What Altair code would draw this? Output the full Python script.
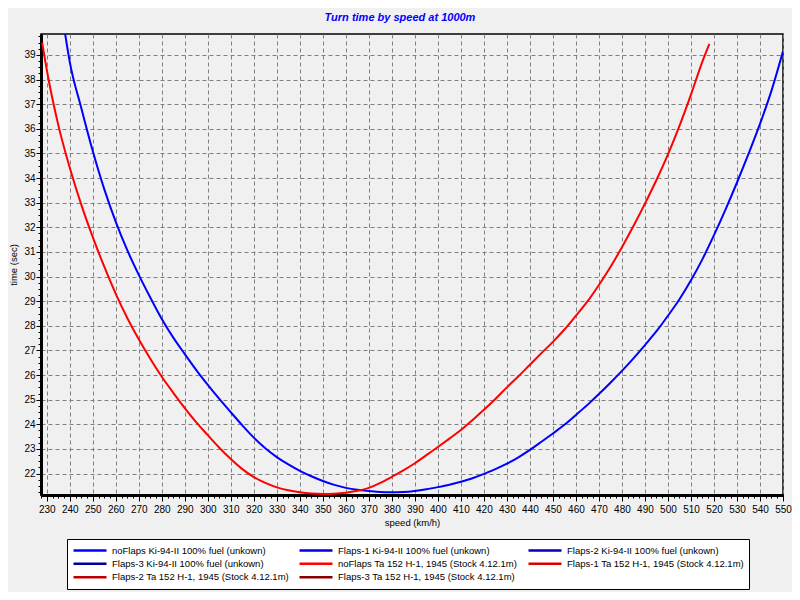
import altair as alt
import pandas as pd

# ---- data ----
series_names = [
    "noFlaps Ki-94-II 100% fuel (unkown)",
    "Flaps-1 Ki-94-II 100% fuel (unkown)",
    "Flaps-2 Ki-94-II 100% fuel (unkown)",
    "Flaps-3 Ki-94-II 100% fuel (unkown)",
    "noFlaps Ta 152 H-1, 1945 (Stock 4.12.1m)",
    "Flaps-1 Ta 152 H-1, 1945 (Stock 4.12.1m)",
    "Flaps-2 Ta 152 H-1, 1945 (Stock 4.12.1m)",
    "Flaps-3 Ta 152 H-1, 1945 (Stock 4.12.1m)",
]
series_colors = ["#0000FF", "#0000DD", "#0000BB", "#000099",
                 "#FF0000", "#DD0000", "#BB0000", "#880000"]

ki_speed = [238, 240, 245, 250, 255, 260, 265, 270, 275, 280, 285, 290, 295, 300,
            305, 310, 315, 320, 325, 330, 335, 340, 345, 350, 355, 360, 365, 370,
            375, 380, 385, 390, 395, 400, 405, 410, 415, 420, 425, 430, 435, 440,
            445, 450, 455, 460, 465, 470, 475, 480, 485, 490, 495, 500, 505, 510,
            515, 520, 525, 530, 535, 540, 545, 550]
ki_time = [39.85, 38.72, 36.85, 35.1, 33.55, 32.22, 31.07, 30.07, 29.15, 28.28, 27.52,
           26.85, 26.2, 25.6, 25.03, 24.49, 23.96, 23.46, 23.03, 22.67, 22.37, 22.11,
           21.89, 21.7, 21.54, 21.42, 21.34, 21.29, 21.25, 21.24, 21.25, 21.29, 21.36,
           21.45, 21.55, 21.67, 21.81, 21.99, 22.18, 22.4, 22.66, 22.96, 23.29, 23.63,
           23.98, 24.38, 24.79, 25.23, 25.69, 26.17, 26.68, 27.22, 27.78, 28.41, 29.08,
           29.85, 30.71, 31.68, 32.72, 33.82, 34.98, 36.2, 37.55, 39.15]

ta_speed = [228, 230, 235, 240, 245, 250, 255, 260, 265, 270, 275, 280, 285, 290,
            295, 300, 305, 310, 315, 320, 325, 330, 335, 340, 345, 350, 355, 360,
            365, 370, 375, 380, 385, 390, 395, 400, 405, 410, 415, 420, 425, 430,
            435, 440, 445, 450, 455, 460, 465, 470, 475, 480, 485, 490, 495, 500,
            505, 510, 515, 518]
ta_time = [39.5, 38.4, 36.16, 34.42, 32.92, 31.6, 30.4, 29.3, 28.32, 27.45, 26.66,
           25.93, 25.28, 24.66, 24.08, 23.56, 23.05, 22.59, 22.18, 21.86, 21.62, 21.44,
           21.32, 21.24, 21.19, 21.17, 21.18, 21.22, 21.3, 21.42, 21.62, 21.87, 22.13,
           22.42, 22.75, 23.08, 23.42, 23.77, 24.17, 24.59, 25.03, 25.5, 25.95, 26.42,
           26.89, 27.35, 27.85, 28.41, 28.99, 29.66, 30.39, 31.19, 32.05, 32.96, 33.92,
           34.96, 36.12, 37.39, 38.74, 39.45]

x_major_ticks = [230 + 10 * i for i in range(33)]
x_minor_ticks = [227.5 + 2.5 * i for i in range(130)]
y_major_ticks = [22 + i for i in range(18)]
y_minor_ticks = [21.25 + 0.25 * i for i in range(75)]

df = pd.concat([
    pd.DataFrame({"speed": ki_speed, "time": ki_time, "series": series_names[0]}),
    pd.DataFrame({"speed": ta_speed, "time": ta_time, "series": series_names[4]}),
], ignore_index=True)

FONT = "Liberation Sans"
x_scale = alt.Scale(domain=[227.5, 550], nice=False, zero=False)
y_scale = alt.Scale(domain=[21.13, 39.85], nice=False, zero=False)

base = alt.Chart(df)

lines = base.mark_line(strokeWidth=2, clip=True, interpolate="monotone").encode(
    x=alt.X("speed:Q", scale=x_scale, axis=alt.Axis(
        title="speed (km/h)", values=x_major_ticks, format="d", orient="bottom",
        labelOverlap=False, labelFlush=False, tickSize=6, grid=True,
        labelPadding=3, titlePadding=3)),
    y=alt.Y("time:Q", scale=y_scale, axis=alt.Axis(
        title="time (sec)", values=y_major_ticks, format="d", orient="left",
        labelOverlap=False, labelFlush=False, tickSize=5, grid=True,
        labelPadding=1, titlePadding=5)),
    color=alt.Color(
        "series:N",
        scale=alt.Scale(domain=series_names, range=series_colors),
        sort=series_names,
        legend=alt.Legend(
            title=None, orient="none", legendX=26, legendY=505, direction="horizontal",
            columns=3, columnPadding=9, rowPadding=0.5,
            symbolType="stroke", symbolSize=1089, symbolStrokeWidth=2.5,
            clipHeight=12.5, labelOffset=4, labelLimit=400,
            labelFont=FONT, labelFontSize=9.5, labelColor="black",
            fillColor="white", strokeColor="black", padding=5,
        ),
    ),
)

minor = base.mark_point(opacity=0).encode(
    x=alt.X("speed:Q", scale=x_scale, axis=alt.Axis(
        title=None, values=x_minor_ticks, labels=False, grid=False, domain=False,
        orient="bottom", tickSize=3)),
    y=alt.Y("time:Q", scale=y_scale, axis=alt.Axis(
        title=None, values=y_minor_ticks, labels=False, grid=False, domain=False,
        orient="left", tickSize=3)),
)

chart = alt.layer(minor, lines).resolve_axis(
    x="independent", y="independent"
).properties(
    width=742, height=461,
    title=alt.TitleParams(
        "Turn time by speed at 1000m", color="#0000FF", font=FONT, fontSize=11,
        fontStyle="italic", fontWeight="bold", anchor="middle", frame="group",
        dx=-12, offset=8,
    ),
    autosize=alt.AutoSizeParams(type="none"),
    padding={"left": 33, "top": 26, "right": 9, "bottom": 97},
).configure(
    background="#F0F0F0",
).configure_view(
    stroke="black", strokeWidth=1.5, fill="#F0F0F0",
).configure_axis(
    domainColor="black", domainWidth=3, tickColor="black", tickWidth=1,
    gridColor="#808080", gridDash=[4, 3], gridWidth=1,
    labelFont=FONT, labelFontSize=10, labelColor="black",
    titleFont=FONT, titleFontSize=9.5, titleFontWeight="normal", titleColor="black",
)

chart.save("out.html", embed_options={"renderer": "svg", "actions": False})
